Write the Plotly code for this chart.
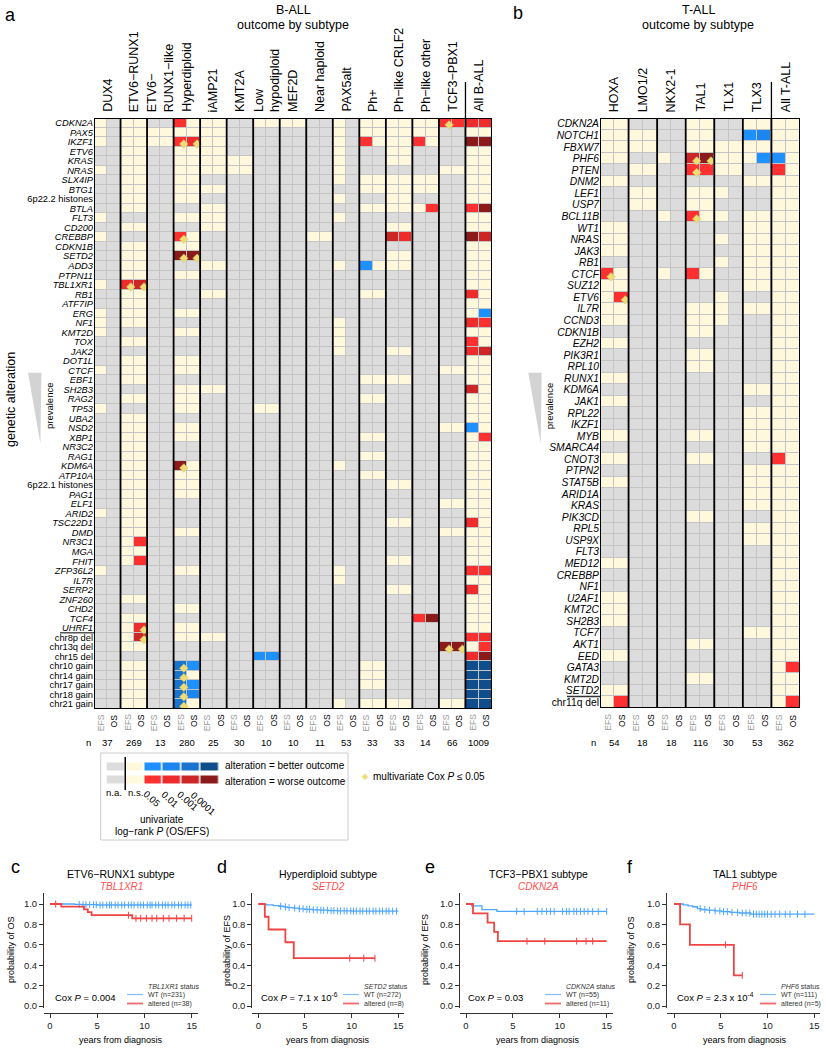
import plotly.graph_objects as go

W, H = 826, 1050
FONT = "Liberation Sans, Arial, sans-serif"


def px(x):
    return x / W


def py(y):
    return 1 - y / H


# ---------------------------------------------------------------- data
ball_subtypes = ["DUX4", "ETV6-RUNX1", "ETV6-RUNX1-like", "Hyperdiploid", "iAMP21", "KMT2A",
                 "Low hypodiploid", "MEF2D", "Near haploid", "PAX5alt", "Ph+", "Ph-like CRLF2",
                 "Ph-like other", "TCF3-PBX1", "All B-ALL"]
ball_headers = ["DUX4", "ETV6−RUNX1", "ETV6−<br>RUNX1−like", "Hyperdiploid", "iAMP21", "KMT2A",
                "Low<br>hypodiploid", "MEF2D", "Near haploid", "PAX5alt", "Ph+", "Ph−like CRLF2",
                "Ph−like other", "TCF3−PBX1", "All B-ALL"]
ball_n = [37, 269, 13, 280, 25, 30, 10, 10, 11, 53, 33, 33, 14, 66, 1009]
ball_genes = ["CDKN2A", "PAX5", "IKZF1", "ETV6", "KRAS", "NRAS", "SLX4IP", "BTG1", "6p22.2 histones",
              "BTLA", "FLT3", "CD200", "CREBBP", "CDKN1B", "SETD2", "ADD3", "PTPN11", "TBL1XR1", "RB1",
              "ATF7IP", "ERG", "NF1", "KMT2D", "TOX", "JAK2", "DOT1L", "CTCF", "EBF1", "SH2B3", "RAG2",
              "TP53", "UBA2", "NSD2", "XBP1", "NR3C2", "RAG1", "KDM6A", "ATP10A", "6p22.1 histones",
              "PAG1", "ELF1", "ARID2", "TSC22D1", "DMD", "NR3C1", "MGA", "FHIT", "ZFP36L2", "IL7R",
              "SERP2", "ZNF260", "CHD2", "TCF4", "UHRF1", "chr8p del", "chr13q del", "chr15 del",
              "chr10 gain", "chr14 gain", "chr17 gain", "chr18 gain", "chr21 gain"]
# per gene: EFS/OS pair per subtype. '.'=n.a., 'o'=n.s., '1'-'4' worse (P<.05,.01,.001,.0001), 'A'-'D' better
ball_codes = [
    "o. oo .. 1o oo .. oo oo .. o. oo oo oo 11 22",
    "o. oo oo oo oo .. .. .. .. o. oo oo oo .. oo",
    "o. oo oo 12 oo .. .. .. .. o. 1o oo 1o .. 44",
    ".. oo .. oo oo .. .. .. .. o. .. oo .. .. oo",
    ".. oo .. oo oo oo .. .. .. o. .. oo .. .. oo",
    "o. oo .. oo oo oo .. .. .. o. .. .. .. oo oo",
    ".. oo .. oo .. .. .. .. .. o. oo oo oo .. oo",
    ".. oo .. oo oo .. .. .. .. .. oo oo oo .. oo",
    ".. oo .. oo .. .. .. .. .. o. .. oo .. .. oo",
    ".. oo .. .. oo .. .. .. .. .. oo oo o1 .. 14",
    "o. .. .. oo oo .. .. .. .. o. .. .. .. .. oo",
    ".. oo .. .. oo .. .. .. .. .. .. oo .. .. oo",
    "o. .. .. 1o .. .. .. .. oo .. .. 32 .. .. 43",
    ".. oo .. oo .. .. .. .. .. .. .. .. .. .. oo",
    ".. oo .. 44 .. .. .. .. .. .. .. oo .. .. oo",
    ".. oo .. .. oo .. .. .. .. o. Ao oo .. .. oo",
    ".. oo .. oo .. .. .. .. .. .. .. .. .. .. oo",
    "o. 23 .. .. .. .. .. .. .. .. .. .. .. .. oo",
    ".. oo .. .. oo .. .. .. .. .. oo .. .. .. 2o",
    ".. oo .. .. .. .. .. .. .. .. .. .. .. .. oo",
    "o. oo .. oo .. .. .. .. .. .. .. .. .. .. oA",
    "o. oo .. .. .. .. .. .. .. o. .. .. .. .. 21",
    "o. .. .. oo .. .. .. .. .. o. .. .. .. .. oo",
    ".. oo .. .. .. .. .. .. .. o. .. .. .. .. 1o",
    ".. .. .. .. .. .. .. .. .. o. .. oo .. .. 23",
    ".. oo .. oo .. .. .. .. .. .. .. .. .. .. oo",
    "o. oo .. oo .. .. .. .. .. .. .. .. .. oo oo",
    ".. oo .. .. .. .. .. .. .. .. oo oo .. .. oo",
    ".. .. .. oo oo .. .. .. .. .. .. .. .. .. 3o",
    ".. oo .. oo .. .. .. .. .. .. oo .. .. .. oo",
    "o. .. .. oo .. .. oo .. .. .. .. .. .. .. oo",
    ".. oo .. .. .. .. .. .. .. .. .. .. .. .. oo",
    ".. oo .. oo .. .. .. .. .. .. .. .. .. oo Ao",
    ".. oo .. oo .. .. .. .. .. .. oo .. .. .. o1",
    ".. oo .. .. .. .. .. .. .. .. .. .. .. .. oo",
    ".. oo .. .. .. .. .. .. .. .. oo .. .. .. oo",
    ".. oo .. 4o .. .. .. .. .. o. .. .. .. .. oo",
    ".. oo .. oo .. .. .. .. .. .. oo .. .. .. oo",
    ".. oo .. oo .. .. .. .. .. .. .. oo .. .. oo",
    ".. oo .. oo .. .. .. .. .. .. .. .. .. .. oo",
    ".. oo .. .. .. .. .. .. .. .. .. .. .. oo oo",
    "o. oo .. .. .. .. .. .. .. .. .. .. .. .. oo",
    ".. oo .. .. .. .. .. .. .. .. .. oo .. .. 2o",
    ".. oo .. oo .. .. .. .. .. .. .. .. .. oo oo",
    ".. o1 .. .. .. .. .. .. .. .. .. .. .. .. oo",
    ".. oo .. .. .. .. .. .. .. .. .. .. .. .. oo",
    ".. o1 .. .. .. .. .. .. .. .. .. oo .. .. oo",
    "o. .. .. oo .. .. .. .. .. o. .. .. .. .. 11",
    ".. .. .. .. .. .. .. .. .. o. .. .. .. .. oo",
    ".. .. .. .. .. .. .. .. .. .. .. oo .. .. 2o",
    ".. oo .. .. .. .. .. .. .. .. .. .. .. .. oo",
    ".. .. .. oo .. .. .. .. .. .. .. .. .. .. oo",
    ".. oo .. .. .. .. .. .. .. .. .. .. 14 .. oo",
    ".. o2 .. oo .. .. .. .. .. .. .. .. .. .. oo",
    ".. o3 .. oo oo .. .. .. .. .. .. .. .. .. 12",
    ".. oo .. .. .. .. .. .. .. .. .. .. .. 44 o1",
    ".. .. .. .. .. .. AA .. .. .. .. .. .. .. 24",
    ".. oo .. CA .. .. .. .. .. .. oo .. .. .. DD",
    ".. oo .. Co .. .. .. .. .. .. oo .. .. .. DD",
    ".. oo .. CA .. .. .. .. .. .. oo .. .. .. DD",
    ".. oo .. CB .. .. .. .. .. .. .. .. .. .. DD",
    ".. oo .. Co .. .. .. .. .. o. oo oo .. oo DD",
]
ball_multi = [("CDKN2A", "TCF3-PBX1", "EFS"), ("IKZF1", "Hyperdiploid", "EFS"), ("IKZF1", "Hyperdiploid", "OS"),
              ("CREBBP", "Hyperdiploid", "EFS"), ("SETD2", "Hyperdiploid", "EFS"), ("SETD2", "Hyperdiploid", "OS"),
              ("TBL1XR1", "ETV6-RUNX1", "EFS"), ("TBL1XR1", "ETV6-RUNX1", "OS"), ("KDM6A", "Hyperdiploid", "EFS"),
              ("UHRF1", "ETV6-RUNX1", "OS"), ("chr8p del", "ETV6-RUNX1", "OS"),
              ("chr13q del", "TCF3-PBX1", "EFS"), ("chr13q del", "TCF3-PBX1", "OS"),
              ("chr10 gain", "Hyperdiploid", "EFS"), ("chr14 gain", "Hyperdiploid", "EFS"),
              ("chr17 gain", "Hyperdiploid", "EFS"), ("chr18 gain", "Hyperdiploid", "EFS"),
              ("chr21 gain", "Hyperdiploid", "EFS")]

tall_subtypes = ["HOXA", "LMO1/2", "NKX2-1", "TAL1", "TLX1", "TLX3", "All T-ALL"]
tall_n = [54, 18, 18, 116, 30, 53, 362]
tall_genes = ["CDKN2A", "NOTCH1", "FBXW7", "PHF6", "PTEN", "DNM2", "LEF1", "USP7", "BCL11B", "WT1", "NRAS",
              "JAK3", "RB1", "CTCF", "SUZ12", "ETV6", "IL7R", "CCND3", "CDKN1B", "EZH2", "PIK3R1", "RPL10",
              "RUNX1", "KDM6A", "JAK1", "RPL22", "IKZF1", "MYB", "SMARCA4", "CNOT3", "PTPN2", "STAT5B",
              "ARID1A", "KRAS", "PIK3CD", "RPL5", "USP9X", "FLT3", "MED12", "CREBBP", "NF1", "U2AF1",
              "KMT2C", "SH2B3", "TCF7", "AKT1", "EED", "GATA3", "KMT2D", "SETD2", "chr11q del"]
tall_codes = [
    "oo .. .. oo .. oo oo", "oo oo .. oo .. AB oo", "oo oo .. oo oo oo oo", "oo .. o. 34 oo oA Ao",
    ".. oo .. 11 oo .. 1o", "oo .. .. .. .. oo oo", ".. oo .. oo o. .. oo", ".. oo .. oo .. .. oo",
    ".. .. o. 1o o. oo oo", "oo .. .. .. .. oo oo", "oo .. .. .. o. oo oo", "oo .. .. .. .. oo oo",
    ".. .. .. .. o. oo oo", "1o .. o. 1o .. oo oo", "oo .. .. .. .. oo oo", "o1 .. .. .. o. .. oo",
    "oo .. .. oo o. oo oo", "oo .. .. oo o. .. oo", ".. .. .. oo .. .. oo", "oo .. .. .. .. .. oo",
    ".. .. .. oo .. .. oo", ".. .. .. oo .. .. oo", "oo .. .. .. .. .. oo", ".. .. .. .. .. oo oo",
    "oo .. .. .. .. .. oo", ".. .. .. .. .. oo oo", ".. .. .. .. .. oo oo", "oo .. .. oo .. oo oo",
    ".. .. .. .. .. oo oo", "oo .. .. oo .. .. 1o", ".. .. .. .. .. oo oo", "oo .. .. .. .. oo oo",
    ".. .. .. .. .. oo oo", ".. .. .. .. .. oo oo", ".. .. .. oo .. .. oo", ".. .. .. .. .. oo oo",
    ".. .. .. .. .. oo oo", ".. .. .. .. .. .. oo", "oo .. .. .. .. .. oo", ".. .. .. .. .. .. oo",
    ".. .. .. .. .. .. oo", "oo .. .. .. .. .. oo", "oo .. .. .. .. .. oo", "oo .. .. .. .. .. oo",
    ".. .. .. .. .. oo oo", ".. .. .. oo .. .. oo", "oo .. .. .. .. .. oo", ".. .. .. .. .. .. o1",
    ".. .. .. oo .. .. oo", "oo .. .. .. .. .. oo", "o1 .. .. .. .. .. o1",
]
tall_multi = [("PHF6", "TAL1", "EFS"), ("PHF6", "TAL1", "OS"), ("PTEN", "TAL1", "EFS"),
              ("BCL11B", "TAL1", "EFS"), ("CTCF", "HOXA", "EFS"), ("ETV6", "HOXA", "OS")]

legend_pvals = ["0.05", "0.01", "0.001", "0.0001"]

# Kaplan-Meier estimates
c_wt_time = [0, 2.6, 3.4, 5.0, 15.0]
c_wt_surv = [1.0, 0.996, 0.993, 0.99, 0.99]
c_wt_cens = [3.1, 3.5, 3.8, 4.2, 4.6, 4.9, 5.3, 5.6, 6.0, 6.3, 6.5, 6.9, 7.2, 7.6, 7.9, 8.3, 8.6, 8.9, 9.3,
             9.6, 9.9, 10.3, 10.6, 10.8, 11.2, 11.5, 11.9, 12.2, 12.5, 12.9, 13.2, 13.6, 13.9, 14.3, 14.6, 14.9]
c_alt_time = [0, 1.2, 3.6, 4.0, 4.4, 8.7, 15.0]
c_alt_surv = [1.0, 0.974, 0.947, 0.92, 0.89, 0.86, 0.86]
c_alt_cens = [0.6, 8.3, 9.1, 9.6, 10.2, 10.8, 11.3, 12.0, 12.6, 13.4, 14.2, 15.0]

d_wt_time = [0, 0.3, 0.9, 1.6, 2.2, 2.7, 3.1, 3.7, 4.3, 5.0, 5.8, 6.6, 7.5, 8.5, 10.0, 15.0]
d_wt_surv = [1.0, 0.996, 0.992, 0.985, 0.978, 0.971, 0.965, 0.959, 0.953, 0.948, 0.943, 0.939, 0.935,
             0.932, 0.93, 0.93]
d_wt_cens = [2.4, 2.9, 3.3, 3.9, 4.4, 4.8, 5.2, 5.5, 5.9, 6.3, 6.7, 7.0, 7.4, 7.8, 8.1, 8.5, 8.8, 9.2,
             9.5, 9.9, 10.2, 10.5, 10.9, 11.2, 11.6, 11.9, 12.3, 12.6, 13.0, 13.3, 13.7, 14.0, 14.4, 14.8]
d_alt_time = [0, 0.7, 1.1, 2.9, 3.8, 12.5]
d_alt_surv = [1.0, 0.875, 0.75, 0.625, 0.469, 0.469]
d_alt_cens = [9.8, 11.3, 12.5]

e_wt_time = [0, 0.6, 1.7, 3.3, 15.0]
e_wt_surv = [1.0, 0.982, 0.945, 0.927, 0.927]
e_wt_cens = [5.4, 6.2, 7.6, 8.1, 8.6, 9.0, 9.4, 10.3, 10.7, 11.0, 11.5, 11.8, 12.2, 12.6, 13.0, 13.5,
             14.1, 15.0]
e_alt_time = [0, 0.75, 2.3, 3.0, 3.4, 15.0]
e_alt_surv = [1.0, 0.909, 0.818, 0.727, 0.636, 0.636]
e_alt_cens = [6.5, 8.4, 11.8, 12.8, 13.5]

f_wt_time = [0, 1.0, 1.5, 2.0, 2.5, 2.9, 3.5, 4.3, 5.1, 6.0, 7.0, 8.2, 15.0]
f_wt_surv = [1.0, 0.991, 0.982, 0.973, 0.955, 0.946, 0.94, 0.932, 0.925, 0.918, 0.912, 0.9, 0.9]
f_wt_cens = [2.8, 3.3, 3.8, 4.4, 4.9, 5.3, 5.7, 6.2, 6.8, 7.3, 7.7, 8.1, 8.5, 8.8, 9.1, 9.4, 9.7, 10.0,
             10.4, 10.8, 11.3, 11.9, 12.4, 13.2, 14.0]
f_alt_time = [0, 0.65, 1.7, 6.4, 7.3]
f_alt_surv = [1.0, 0.8, 0.6, 0.3, 0.3]
f_alt_cens = [5.5, 7.3]

km_titles = ["ETV6−RUNX1 subtype", "Hyperdiploid subtype", "TCF3−PBX1 subtype", "TAL1 subtype"]
km_genes = ["TBL1XR1", "SETD2", "CDKN2A", "PHF6"]
km_endpoints = ["OS", "EFS", "EFS", "OS"]
km_cox = ["Cox <i>P</i> = 0.004", "Cox <i>P</i> = 7.1 x 10<sup>-6</sup>", "Cox <i>P</i> = 0.03",
          "Cox <i>P</i> = 2.3 x 10<sup>-4</sup>"]
km_wt_n = [231, 272, 55, 111]
km_alt_n = [38, 8, 11, 5]

# ---------------------------------------------------------------- styling
CODE = {'.': 0, 'o': 1, '1': 2, '2': 3, '3': 4, '4': 5, 'A': 6, 'B': 7, 'C': 8, 'D': 9}
COLORS = ['#DCDCDC', '#FFF8DC', '#FF3030', '#EE2C2C', '#CD2626', '#8B1A1A',
          '#1E90FF', '#1C86EE', '#1874CD', '#104E8B']
CS = []
for i, c in enumerate(COLORS):
    CS.append([i / 10, c])
    CS.append([(i + 1) / 10, c])
GAPCOL = '#C4C4C4'
BLUE = '#4DA6FF'
RED = '#F04444'
DIAM = '#EEDC78'

fig = go.Figure()
shapes = []
annotations = []


def ann(text, x, y, size=10, color='black', xanchor='center', yanchor='middle', angle=0,
        xref='paper', yref='paper', align='center'):
    annotations.append(dict(text=text, x=x, y=y, xref=xref, yref=yref, showarrow=False,
                            font=dict(size=size, color=color, family=FONT), xanchor=xanchor,
                            yanchor=yanchor, textangle=angle, align=align, borderpad=0))


def to_z(codes, ncol):
    z = []
    for r in codes:
        s = r.replace(" ", "")
        s = (s + "." * ncol)[:ncol]
        z.append([CODE[ch] for ch in s])
    return z


def label(g):
    if g.startswith("chr") or "histones" in g:
        return g
    return "<i>" + g + "</i>"


def heat_panel(xa, ya, subtypes, genes, codes, multi, nvals, headers, y_top, n_label_x):
    ncol = 2 * len(subtypes)
    nrow = len(genes)
    z = to_z(codes, ncol)
    fig.add_trace(go.Heatmap(z=z, x=list(range(ncol)), y=list(range(nrow)), colorscale=CS, zmin=-0.5,
                             zmax=9.5, showscale=False, xgap=1, ygap=1, hoverinfo='skip',
                             xaxis=xa, yaxis=ya))
    mx = [subtypes.index(s) * 2 + (0 if m == "EFS" else 1) + 0.27 for g, s, m in multi]
    my = [genes.index(g) + 0.22 for g, s, m in multi]
    fig.add_trace(go.Scatter(x=mx, y=my, mode='markers', hoverinfo='skip', showlegend=False,
                             marker=dict(symbol='diamond', size=6.5, color=DIAM,
                                         line=dict(width=0.6, color='#D9C45A')),
                             xaxis=xa, yaxis=ya))
    shapes.append(dict(type='rect', xref=xa, yref=ya, x0=-0.5, x1=ncol - 0.5, y0=-0.5, y1=nrow - 0.5,
                       fillcolor=GAPCOL, line=dict(width=0), layer='below'))
    for k in range(1, len(subtypes)):
        shapes.append(dict(type='line', xref=xa, yref=ya, x0=2 * k - 0.5, x1=2 * k - 0.5, y0=-0.5,
                           y1=nrow - 0.5, line=dict(color='black', width=1.8)))
    shapes.append(dict(type='line', xref=xa, yref='paper', x0=ncol - 2.5, x1=ncol - 2.5,
                       y0=py(y_top), y1=py(82), line=dict(color='black', width=1.3)))
    shapes.append(dict(type='rect', xref=xa, yref=ya, x0=-0.5, x1=ncol - 0.5, y0=-0.5, y1=nrow - 0.5,
                       line=dict(color='black', width=2)))
    for k, h in enumerate(headers):
        ann(h, 2 * k + 0.5, py(113), size=12.5, xref=xa, angle=-90, xanchor='center',
            yanchor='bottom', align='left')
        ann(str(nvals[k]), 2 * k + 0.5, py(742), size=9.5, xref=xa)
    for j in range(ncol):
        ann("EFS" if j % 2 == 0 else "OS", j, py(713), size=8.5,
            color='#9A9A9A' if j % 2 == 0 else 'black', xref=xa, angle=-90, yanchor='top')
    ann("n", px(n_label_x), py(742), size=9.5)


heat_panel('x', 'y', ball_subtypes, ball_genes, ball_codes, ball_multi, ball_n, ball_headers, 118, 88)
heat_panel('x2', 'y2', tall_subtypes, tall_genes, tall_codes, tall_multi, tall_n, tall_subtypes, 118, 593)

# separator lines under last gene rows
shapes.append(dict(type='line', xref='paper', yref='y', x0=px(60), x1=px(94), y0=53.5, y1=53.5,
                   line=dict(color='#555555', width=1.5)))
shapes.append(dict(type='line', xref='paper', yref='y2', x0=px(567), x1=px(600), y0=49.5, y1=49.5,
                   line=dict(color='#333333', width=1.5)))

# prevalence wedges
for x0 in (28, 528.3):
    shapes.append(dict(type='path', xref='paper', yref='paper',
                       path=f"M {px(x0)},{py(372.7)} L {px(x0 + 13.4)},{py(372.7)} L {px(x0 + 12.4)},{py(443.3)} Z",
                       fillcolor='#D3D3D3', line=dict(width=0)))
ann("prevalence", px(49), py(406), size=9.5, angle=-90)
ann("prevalence", px(549.3), py(406), size=9.5, angle=-90)
ann("genetic alteration", px(11), py(400), size=12.5, angle=-90)

# titles
ann("a", px(10), py(15), size=18)
ann("b", px(518), py(13), size=18)
ann("B-ALL", px(293), py(10), size=12.5)
ann("outcome by subtype", px(293), py(25), size=12.5)
ann("T-ALL", px(698), py(10), size=12.5)
ann("outcome by subtype", px(698), py(25), size=12.5)

# ---------------------------------------------------------------- legend
legend_z = [[0, 1, 6, 7, 8, 9], [0, 1, 2, 3, 4, 5]]
fig.add_trace(go.Heatmap(z=legend_z, x=list(range(6)), y=[0, 1], colorscale=CS, zmin=-0.5, zmax=9.5,
                         showscale=False, xgap=1.5, ygap=5, hoverinfo='skip', xaxis='x7', yaxis='y7'))
shapes.append(dict(type='rect', xref='paper', yref='paper', x0=px(100.7), x1=px(348), y0=py(840),
                   y1=py(753), line=dict(color='#CCCCCC', width=1)))
shapes.append(dict(type='line', xref='x7', yref='paper', x0=0.5, x1=0.5, y0=py(790), y1=py(757),
                   line=dict(color='black', width=1.5)))
ann("alteration = better outcome", px(224), py(765.5), size=10, xanchor='left')
ann("alteration = worse outcome", px(224), py(781), size=10, xanchor='left')
ann("n.a.", px(114), py(792), size=9.5)
ann("n.s.", px(135), py(792), size=9.5)
for pv, cx, cy in zip(legend_pvals, [152, 170.5, 187.5, 203.5], [798, 799, 800.5, 803]):
    ann(pv, px(cx), py(cy), size=9.5, angle=42)
ann("univariate", px(162), py(819), size=10)
ann("log−rank <i>P</i> (OS/EFS)", px(162), py(831), size=10)
ann("◆", px(365), py(776), size=8, color=DIAM)
ann("multivariate Cox <i>P</i> ≤ 0.05", px(372), py(776), size=10, xanchor='left')

# ---------------------------------------------------------------- KM panels
km_wt = [(c_wt_time, c_wt_surv, c_wt_cens), (d_wt_time, d_wt_surv, d_wt_cens),
         (e_wt_time, e_wt_surv, e_wt_cens), (f_wt_time, f_wt_surv, f_wt_cens)]
km_alt = [(c_alt_time, c_alt_surv, c_alt_cens), (d_alt_time, d_alt_surv, d_alt_cens),
          (e_alt_time, e_alt_surv, e_alt_cens), (f_alt_time, f_alt_surv, f_alt_cens)]

km_t0 = [50, 258.3, 466, 674]
km_t15 = [191.7, 398.3, 606.7, 814.3]
km_yline = [44, 252.3, 460, 667]
km_letter_x = [10, 216, 424, 626]
km_center = [121, 328, 538, 745]
km_ylab_x = [11, 227, 425, 631]
km_cox_x = [54, 260, 466.7, 676]
km_leg_line = [127, 343, 545, 760]

Y_TOP, Y_BOT = 893, 1008
Y1, Y0 = 904, 1006


def step_at(ts, ss, t):
    v = ss[0]
    for tt, s in zip(ts, ss):
        if tt <= t:
            v = s
    return v


layout_axes = {}
for i in range(4):
    ax = i + 3
    xa, ya = f'x{ax}', f'y{ax}'
    for (ts, ss, cs), col, lw in ((km_wt[i], BLUE, 1.3), (km_alt[i], RED, 1.8)):
        fig.add_trace(go.Scatter(x=ts, y=ss, mode='lines', line=dict(color=col, width=lw, shape='hv'),
                                 hoverinfo='skip', showlegend=False, xaxis=xa, yaxis=ya))
        fig.add_trace(go.Scatter(x=cs, y=[step_at(ts, ss, c) for c in cs], mode='markers',
                                 marker=dict(symbol='line-ns-open', size=5, color=col,
                                             line=dict(color=col, width=1)),
                                 hoverinfo='skip', showlegend=False, xaxis=xa, yaxis=ya))
    u = (km_t15[i] - km_t0[i]) / 15.0
    xright = km_t15[i] + 6
    layout_axes[f'xaxis{ax}'] = dict(
        domain=[px(km_yline[i]), px(xright)],
        range=[(km_yline[i] - km_t0[i]) / u, 15 + (xright - km_t15[i]) / u],
        anchor='free', position=py(1013), showline=True, linecolor='#333333', linewidth=1,
        ticks='outside', ticklen=4, tickcolor='#333333', tickvals=[0, 5, 10, 15],
        tickfont=dict(size=9.5, color='#222222', family=FONT), showgrid=False, zeroline=False,
        automargin=False)
    uy = (Y0 - Y1) / 1.0
    layout_axes[f'yaxis{ax}'] = dict(
        domain=[py(Y_BOT), py(Y_TOP)], range=[(Y0 - Y_BOT) / uy, (Y0 - Y_TOP) / uy],
        anchor=xa, showline=True, linecolor='#333333', linewidth=1, ticks='outside', ticklen=4,
        tickcolor='#333333', tickvals=[0, 0.2, 0.4, 0.6, 0.8, 1.0],
        ticktext=['0.0', '0.2', '0.4', '0.6', '0.8', '1.0'],
        tickfont=dict(size=9.5, color='#222222', family=FONT), showgrid=False, zeroline=False,
        automargin=False)
    ann("cdef"[i], px(km_letter_x[i]), py(867), size=18, xanchor='left')
    ann(km_titles[i], px(km_center[i]), py(874), size=10.5)
    ann("<i>" + km_genes[i] + "</i>", px(km_center[i]), py(886.5), size=10, color='#FF5050')
    ann("probability of " + km_endpoints[i], px(km_ylab_x[i]), py(950), size=9, angle=-90)
    ann("years from diagnosis", px(km_center[i]), py(1040), size=9)
    ann(km_cox[i], px(km_cox_x[i]), py(997), size=9.5, xanchor='left')
    lx = km_leg_line[i]
    ann("<i>" + km_genes[i] + "</i> status", px(lx + 20), py(986), size=7, color='#333333',
        xanchor='left')
    ann(f"WT (n={km_wt_n[i]})", px(lx + 20), py(994.5), size=7, color='#333333', xanchor='left')
    ann(f"altered (n={km_alt_n[i]})", px(lx + 20), py(1003.5), size=7, color='#333333', xanchor='left')
    shapes.append(dict(type='line', xref='paper', yref='paper', x0=px(lx), x1=px(lx + 16),
                       y0=py(994.5), y1=py(994.5), line=dict(color='#7FBFF5', width=1.2)))
    shapes.append(dict(type='line', xref='paper', yref='paper', x0=px(lx), x1=px(lx + 16),
                       y0=py(1003.5), y1=py(1003.5), line=dict(color='#F06A6A', width=1.8)))

hid = dict(visible=False, showgrid=False, zeroline=False, automargin=False)
fig.update_layout(
    template='none', width=W, height=H, margin=dict(l=0, r=0, t=0, b=0),
    paper_bgcolor='white', plot_bgcolor='white', showlegend=False, hovermode=False,
    font=dict(family=FONT, color='black'),
    xaxis=dict(domain=[px(94), px(492)], range=[-0.5, 29.5], anchor='y', **hid),
    yaxis=dict(domain=[py(709), py(118)], range=[61.5, -0.5], anchor='x', tickmode='array',
               tickvals=list(range(len(ball_genes))), ticktext=[label(g) for g in ball_genes],
               tickfont=dict(size=9.3, color='black', family=FONT), ticks='', showgrid=False,
               zeroline=False, showline=False, automargin=False),
    xaxis2=dict(domain=[px(600), px(800)], range=[-0.5, 13.5], anchor='y2', **hid),
    yaxis2=dict(domain=[py(708), py(118)], range=[50.5, -0.5], anchor='x2', tickmode='array',
                tickvals=list(range(len(tall_genes))), ticktext=[label(g) for g in tall_genes],
                tickfont=dict(size=10.3, color='black', family=FONT), ticks='', showgrid=False,
                zeroline=False, showline=False, automargin=False),
    xaxis7=dict(domain=[px(106.5), px(219)], range=[-0.5, 5.5], anchor='y7', **hid),
    yaxis7=dict(domain=[py(786), py(760.5)], range=[1.5, -0.5], anchor='x7', **hid),
    shapes=shapes, annotations=annotations,
    **layout_axes,
)

fig.write_html("out.html", config={'displayModeBar': False, 'staticPlot': True},
               post_script="document.body.style.margin='0px';document.body.style.overflow='hidden';")
